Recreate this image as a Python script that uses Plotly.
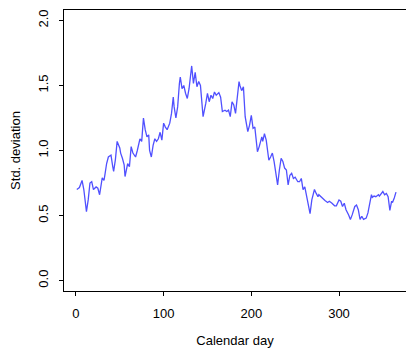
import plotly.graph_objects as go

days = [1, 4, 7, 9, 12, 14, 16, 18, 20, 23, 25, 27, 30, 32, 33, 35, 37, 40, 42, 43,
        45, 47, 50, 51, 53, 55, 56, 59, 61, 63, 65, 68, 70, 73, 75, 77, 79, 81, 83, 84,
        86, 88, 90, 92, 94, 96, 98, 100, 102, 104, 107, 109, 111, 112, 114, 116, 118, 119, 121, 123,
        125, 127, 129, 132, 134, 136, 138, 140, 142, 145, 148, 150, 152, 154, 156, 158, 160, 163, 165, 167,
        170, 172, 174, 176, 178, 180, 182, 184, 186, 187, 189, 191, 192, 193, 196, 198, 200, 202, 204, 207,
        209, 212, 213, 215, 217, 220, 222, 224, 226, 228, 230, 232, 234, 236, 238, 240, 242, 244, 246, 248,
        250, 253, 255, 257, 259, 261, 264, 267, 269, 272, 274, 276, 277, 279, 282, 284, 287, 289, 292, 295,
        297, 300, 302, 304, 306, 308, 311, 313, 315, 318, 320, 322, 324, 326, 328, 331, 333, 335, 337, 338,
        340, 342, 345, 346, 348, 350, 352, 354, 356, 358, 360, 361, 363, 365]

std_dev = [0.70, 0.715, 0.77, 0.70, 0.53, 0.62, 0.75, 0.76, 0.70, 0.72, 0.71, 0.66, 0.79, 0.77, 0.81, 0.90, 0.95, 0.965, 0.875, 0.84,
           0.93, 1.07, 1.02, 0.98, 0.94, 0.89, 0.80, 0.90, 0.875, 1.03, 0.98, 0.95, 1.00, 1.09, 1.07, 1.25, 1.16, 1.105, 1.12, 1.00,
           0.95, 1.04, 1.09, 1.07, 1.09, 1.14, 1.08, 1.21, 1.18, 1.16, 1.21, 1.285, 1.41, 1.335, 1.25, 1.335, 1.515, 1.565, 1.475, 1.50,
           1.44, 1.40, 1.475, 1.65, 1.515, 1.60, 1.49, 1.53, 1.50, 1.26, 1.36, 1.44, 1.375, 1.425, 1.40, 1.45, 1.425, 1.445, 1.41, 1.30,
           1.31, 1.30, 1.31, 1.26, 1.375, 1.35, 1.285, 1.44, 1.53, 1.50, 1.46, 1.49, 1.375, 1.26, 1.145, 1.195, 1.27, 1.17, 1.18, 0.99,
           1.03, 1.105, 1.07, 1.13, 1.08, 0.925, 0.95, 0.98, 0.915, 0.84, 0.735, 0.85, 0.94, 0.915, 0.865, 0.85, 0.735, 0.81, 0.825, 0.785,
           0.795, 0.76, 0.76, 0.785, 0.70, 0.72, 0.61, 0.515, 0.62, 0.70, 0.67, 0.645, 0.66, 0.645, 0.625, 0.615, 0.60, 0.61, 0.595, 0.575,
           0.575, 0.62, 0.61, 0.57, 0.595, 0.545, 0.505, 0.47, 0.505, 0.57, 0.58, 0.545, 0.47, 0.495, 0.47, 0.48, 0.52, 0.58, 0.66, 0.64,
           0.65, 0.645, 0.66, 0.65, 0.665, 0.685, 0.66, 0.67, 0.645, 0.54, 0.61, 0.60, 0.635, 0.68]

x_ticks = [0, 100, 200, 300]
y_ticks = [0.0, 0.5, 1.0, 1.5, 2.0]
y_tick_labels = ["0.0", "0.5", "1.0", "1.5", "2.0"]

font_family = "Liberation Sans, Arial, Helvetica, sans-serif"

fig = go.Figure()
fig.add_trace(go.Scatter(
    x=days, y=std_dev, mode="lines",
    line=dict(color="#5050ff", width=1.3),
    showlegend=False, hoverinfo="skip",
))

fig.update_layout(
    width=406, height=350,
    margin=dict(l=64, r=0, t=10, b=59),
    paper_bgcolor="white", plot_bgcolor="white",
    font=dict(family=font_family, size=13, color="black"),
    xaxis=dict(
        range=[-13.6, 376.4], tickvals=x_ticks, ticktext=[str(t) for t in x_ticks],
        ticks="outside", ticklen=4, tickcolor="black",
        showline=True, linecolor="black", linewidth=1, mirror=True,
        showgrid=False, zeroline=False, automargin=False,
        title=dict(text="Calendar day", standoff=16, font=dict(size=13)),
        ticklabelstandoff=6,
    ),
    yaxis=dict(
        range=[-0.08, 2.08], tickvals=y_ticks, ticktext=y_tick_labels,
        tickangle=-90,
        ticks="outside", ticklen=4, tickcolor="black",
        showline=True, linecolor="black", linewidth=1,
        showgrid=False, zeroline=False, automargin=False,
        title=dict(text="Std. deviation", standoff=12, font=dict(size=13)),
        ticklabelstandoff=6,
    ),
)

fig.write_html(
    "out.html",
    config={"displayModeBar": False, "staticPlot": True},
    post_script="document.body.style.margin='0';document.body.style.padding='0';document.body.style.overflow='hidden';",
)
